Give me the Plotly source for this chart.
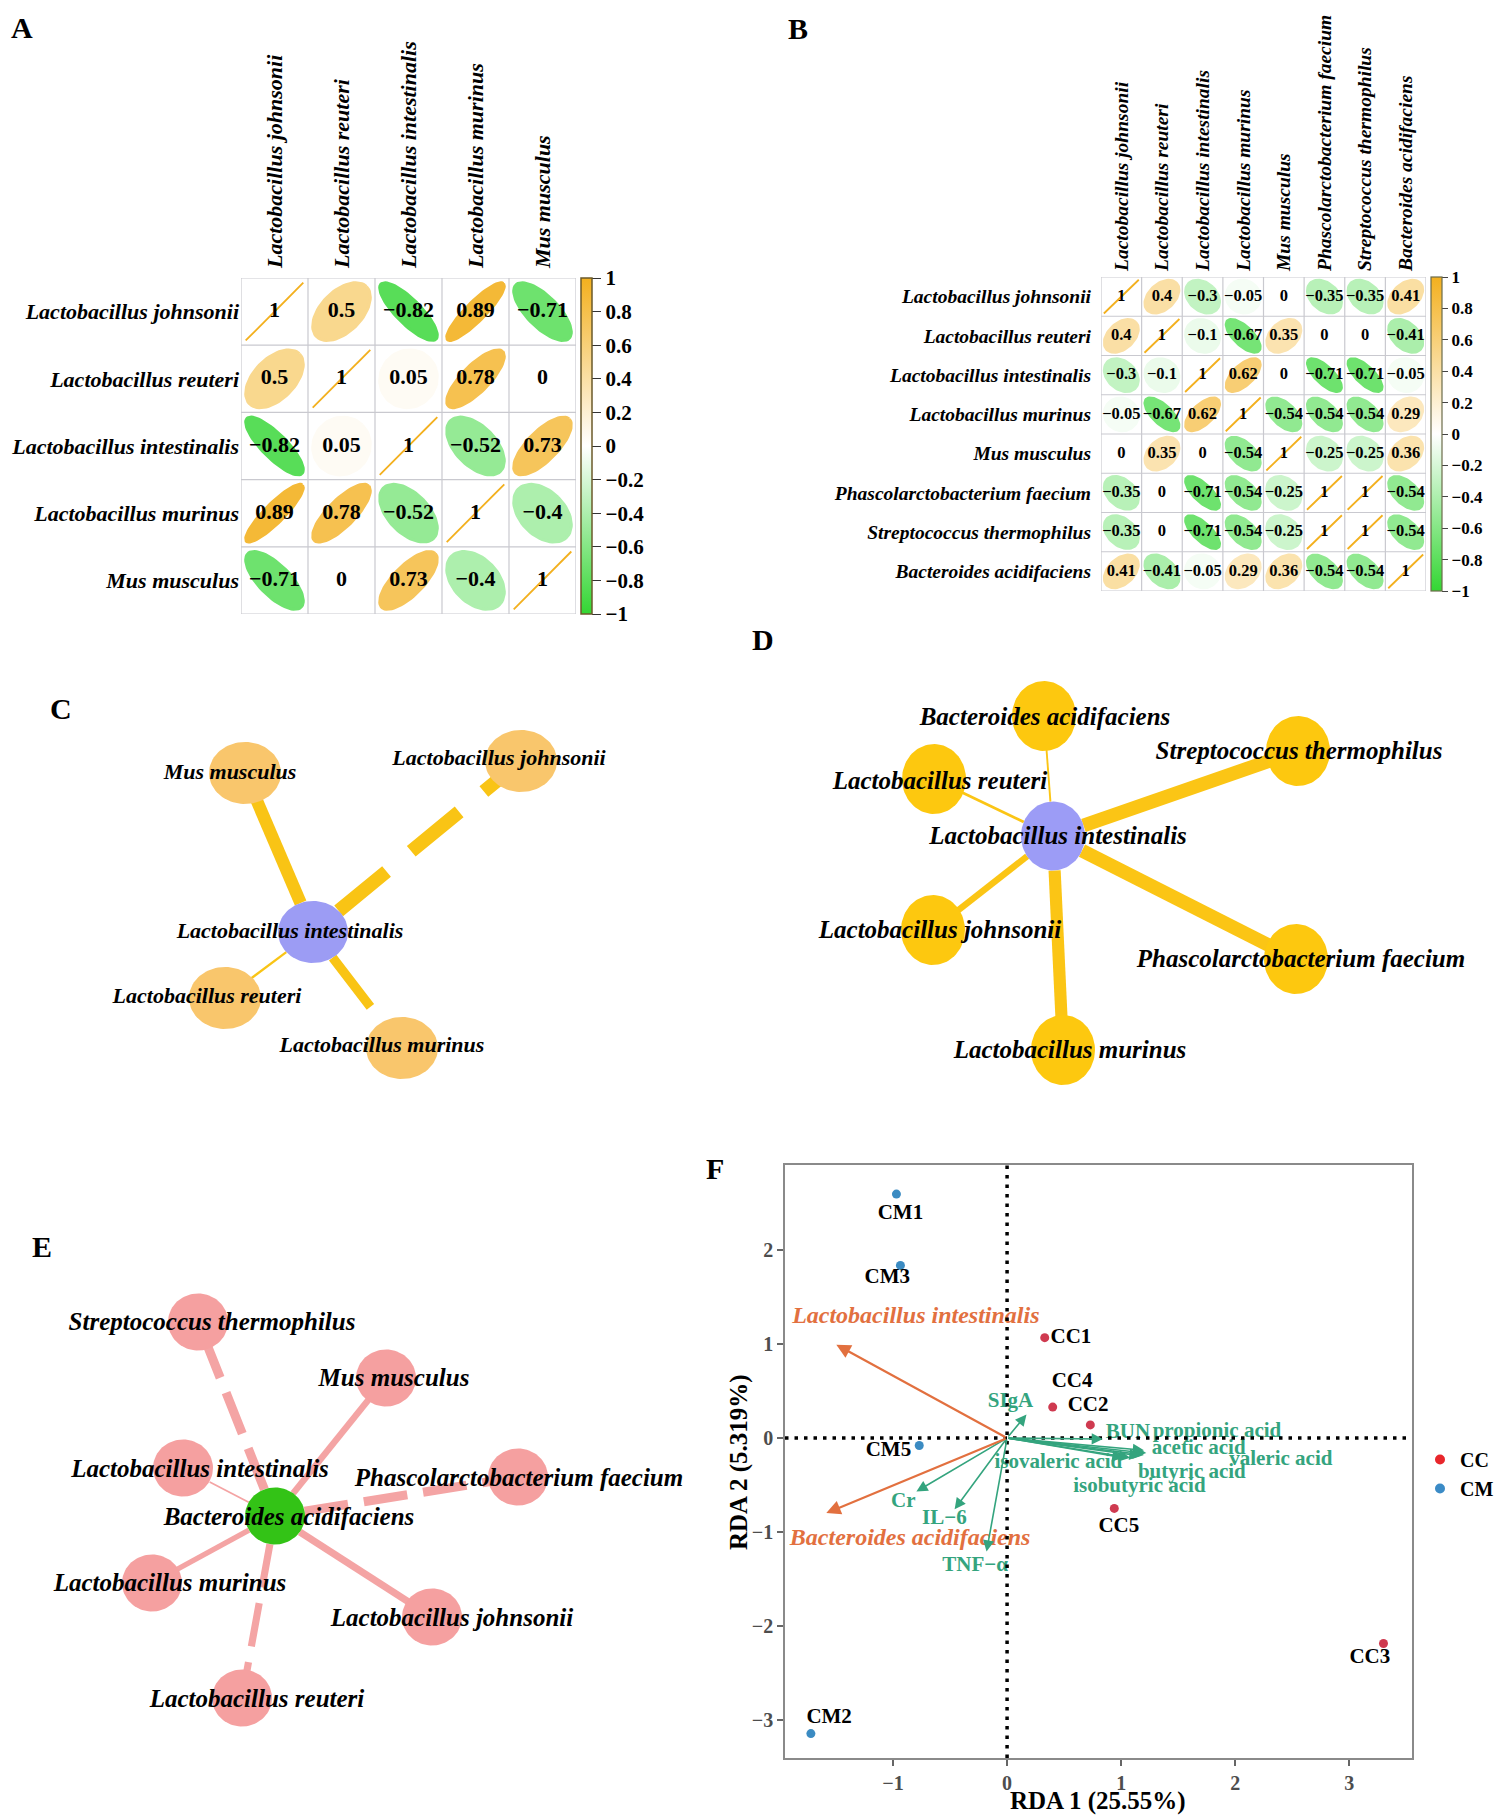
import numpy as np
import plotly.graph_objects as go

W, H = 1511, 1818
SERIF = "Liberation Serif"

# ---------------- data ----------------
A_species = ["Lactobacillus johnsonii", "Lactobacillus reuteri", "Lactobacillus intestinalis",
             "Lactobacillus murinus", "Mus musculus"]
A_corr = [
    [1, 0.5, -0.82, 0.89, -0.71],
    [0.5, 1, 0.05, 0.78, 0],
    [-0.82, 0.05, 1, -0.52, 0.73],
    [0.89, 0.78, -0.52, 1, -0.4],
    [-0.71, 0, 0.73, -0.4, 1],
]

B_species = ["Lactobacillus johnsonii", "Lactobacillus reuteri", "Lactobacillus intestinalis",
             "Lactobacillus murinus", "Mus musculus", "Phascolarctobacterium faecium",
             "Streptococcus thermophilus", "Bacteroides acidifaciens"]
B_corr = [
    [1, 0.4, -0.3, -0.05, 0, -0.35, -0.35, 0.41],
    [0.4, 1, -0.1, -0.67, 0.35, 0, 0, -0.41],
    [-0.3, -0.1, 1, 0.62, 0, -0.71, -0.71, -0.05],
    [-0.05, -0.67, 0.62, 1, -0.54, -0.54, -0.54, 0.29],
    [0, 0.35, 0, -0.54, 1, -0.25, -0.25, 0.36],
    [-0.35, 0, -0.71, -0.54, -0.25, 1, 1, -0.54],
    [-0.35, 0, -0.71, -0.54, -0.25, 1, 1, -0.54],
    [0.41, -0.41, -0.05, 0.29, 0.36, -0.54, -0.54, 1],
]
cbar_ticks = [1, 0.8, 0.6, 0.4, 0.2, 0, -0.2, -0.4, -0.6, -0.8, -1]

# networks: centre node first, then leaves
C_center = "Lactobacillus intestinalis"
C_leaves = ["Mus musculus", "Lactobacillus johnsonii", "Lactobacillus reuteri", "Lactobacillus murinus"]
C_r = [0.73, -0.82, 0.05, -0.52]
C_layout_x = [313, 245, 521, 225, 402]
C_layout_y = [932, 773, 761, 998, 1048]
C_label_x = [290, 230, 499, 207, 382]
C_label_y = [932, 773, 759, 997, 1046]

D_center = "Lactobacillus intestinalis"
D_leaves = ["Bacteroides acidifaciens", "Streptococcus thermophilus", "Lactobacillus reuteri",
            "Lactobacillus johnsonii", "Phascolarctobacterium faecium", "Lactobacillus murinus"]
D_r = [-0.05, -0.71, -0.1, -0.3, -0.71, 0.62]
D_layout_x = [1053, 1044, 1298, 934, 933, 1296, 1063]
D_layout_y = [836, 716, 751, 779, 930, 959, 1050]
D_label_x = [1058, 1045, 1299, 940, 940, 1301, 1070]
D_label_y = [838, 719, 753, 783, 932, 961, 1052]

E_center = "Bacteroides acidifaciens"
E_leaves = ["Streptococcus thermophilus", "Mus musculus", "Lactobacillus intestinalis",
            "Phascolarctobacterium faecium", "Lactobacillus murinus", "Lactobacillus johnsonii",
            "Lactobacillus reuteri"]
E_r = [-0.54, 0.36, -0.05, -0.54, 0.29, 0.41, -0.41]
E_layout_x = [275, 198, 386, 183, 518, 152, 432, 242]
E_layout_y = [1516, 1322, 1378, 1468, 1477, 1583, 1617, 1698]
E_label_x = [289, 212, 394, 200, 519, 170, 452, 257]
E_label_y = [1519, 1324, 1380, 1471, 1480, 1585, 1620, 1701]

F_samples = ["CC1", "CC2", "CC3", "CC4", "CC5", "CM1", "CM2", "CM3", "CM5"]
F_group = ["CC", "CC", "CC", "CC", "CC", "CM", "CM", "CM", "CM"]
F_rda1 = [0.33, 0.73, 3.30, 0.40, 0.94, -0.97, -1.72, -0.935, -0.77]
F_rda2 = [1.07, 0.14, -2.19, 0.33, -0.75, 2.60, -3.15, 1.84, -0.08]
F_label_x = [0.56, 0.71, 3.18, 0.57, 0.98, -0.935, -1.56, -1.05, -1.04]
F_label_y = [1.07, 0.345, -2.34, 0.60, -0.945, 2.387, -2.986, 1.705, -0.135]
F_species = ["Lactobacillus intestinalis", "Bacteroides acidifaciens"]
F_species_x = [-1.497, -1.585]
F_species_y = [0.995, -0.80]
F_species_lab_x = [-0.80, -0.85]
F_species_lab_y = [1.29, -1.077]
F_env = ["SIgA", "BUN", "propionic acid", "acetic acid", "valeric acid", "butyric acid",
         "isobutyric acid", "isovaleric acid", "Cr", "IL\u22126", "TNF\u2212\u03b1"]
F_env_x = [0.17, 0.84, 1.20, 1.22, 1.20, 1.17, 1.08, 1.02, -0.795, -0.46, -0.18]
F_env_y = [0.25, -0.01, -0.13, -0.16, -0.18, -0.19, -0.21, -0.21, -0.57, -0.76, -1.21]
F_env_lab_x = [0.03, 1.06, 1.84, 1.68, 2.40, 1.62, 1.16, 0.45, -0.91, -0.55, -0.28]
F_env_lab_y = [0.39, 0.06, 0.07, -0.11, -0.23, -0.37, -0.52, -0.26, -0.675, -0.86, -1.36]
F_xticks = [-1, 0, 1, 2, 3]
F_yticks = [-3, -2, -1, 0, 1, 2]

# ---------------- styles ----------------
GREEN = (51, 214, 51)
WHITE = (255, 255, 255)
ORANGE = (243, 176, 30)
GRID = "#C9C9CF"
FEN_GREEN = "#34A47E"
FEN_ORANGE = "#E2703F"


def px(x):
    return x / W


def py(y):
    return 1 - y / H


def corr_color(r):
    c2 = ORANGE if r >= 0 else GREEN
    a = abs(r)
    rgb = [round(WHITE[k] + (c2[k] - WHITE[k]) * a) for k in range(3)]
    return "rgb(%d,%d,%d)" % tuple(rgb)


def fmt(v):
    return ("%g" % v).replace("-", "\u2212")


CSCALE = [[0, "rgb(%d,%d,%d)" % GREEN], [0.5, "white"], [1, "rgb(%d,%d,%d)" % ORANGE]]

fig = go.Figure()


def add_corrplot(species, corr, xa, ya, sx, sy, numsize, edge_w):
    n = len(species)
    t = np.linspace(0, 2 * np.pi, 72)
    for i in range(n):
        for j in range(n):
            r = corr[i][j]
            d = np.arccos(np.clip(r, -1, 1))
            ex = (j + 1) + np.cos(t + d / 2) * sx
            ey = (i + 1) - np.cos(t - d / 2) * sy
            col = corr_color(r)
            if abs(r) >= 0.999:
                fig.add_trace(go.Scatter(x=ex, y=ey, mode="lines", line=dict(color=col, width=1.8),
                                         xaxis=xa, yaxis=ya, hoverinfo="skip", showlegend=False))
            else:
                fig.add_trace(go.Scatter(x=ex, y=ey, mode="lines", fill="toself", fillcolor=col,
                                         line=dict(color=col, width=edge_w),
                                         xaxis=xa, yaxis=ya, hoverinfo="skip", showlegend=False))
    xs, ys, txt = [], [], []
    for i in range(n):
        for j in range(n):
            xs.append(j + 1)
            ys.append(i + 1)
            txt.append(fmt(corr[i][j]))
    fig.add_trace(go.Scatter(x=xs, y=ys, mode="text", text=txt,
                             textfont=dict(family=SERIF, size=numsize, color="black", weight="bold"),
                             xaxis=xa, yaxis=ya, hoverinfo="skip", showlegend=False))
    for k in range(n + 1):
        v = 0.5 + k
        fig.add_shape(type="line", xref=xa, yref=ya, x0=v, x1=v, y0=0.5, y1=n + 0.5,
                      line=dict(color=GRID, width=1.2), layer="below")
        fig.add_shape(type="line", xref=xa, yref=ya, x0=0.5, x1=n + 0.5, y0=v, y1=v,
                      line=dict(color=GRID, width=1.2), layer="below")


add_corrplot(A_species, A_corr, "x", "y", 0.43, 0.43, 22, 3)
add_corrplot(B_species, B_corr, "x2", "y2", 0.43, 0.43, 16.5, 2)

# colour bars
fig.add_trace(go.Scatter(
    x=[1], y=[1], mode="markers", xaxis="x", yaxis="y", hoverinfo="skip", showlegend=False,
    marker=dict(size=0.001, color=[0], colorscale=CSCALE, cmin=-1, cmax=1, showscale=True,
                colorbar=dict(x=px(581), xanchor="left", xpad=0, y=py(278), yanchor="top", ypad=0,
                              len=336, lenmode="pixels", thickness=11, outlinewidth=1.5,
                              outlinecolor="#6B5A2A", tickmode="array", tickvals=cbar_ticks,
                              ticktext=[fmt(v) for v in cbar_ticks], ticks="outside", ticklen=9,
                              tickwidth=1.3, tickcolor="#333333",
                              tickfont=dict(family=SERIF, size=21, color="black", weight="bold")))))
fig.add_trace(go.Scatter(
    x=[1], y=[1], mode="markers", xaxis="x2", yaxis="y2", hoverinfo="skip", showlegend=False,
    marker=dict(size=0.001, color=[0], colorscale=CSCALE, cmin=-1, cmax=1, showscale=True,
                colorbar=dict(x=px(1431), xanchor="left", xpad=0, y=py(277), yanchor="top", ypad=0,
                              len=314, lenmode="pixels", thickness=11, outlinewidth=1.2,
                              outlinecolor="#6B6B4A", tickmode="array", tickvals=cbar_ticks,
                              ticktext=[fmt(v) for v in cbar_ticks], ticks="outside", ticklen=6,
                              tickwidth=1.2, tickcolor="#444444",
                              tickfont=dict(family=SERIF, size=17, color="black", weight="bold")))))


def add_network(center, leaves, r, lx, ly, tx, ty, leaf_ab, center_ab, leaf_col, center_col,
                edge_col, wfun, dash_neg, font_size):
    cx, cy = lx[0], ly[0]
    for k in range(len(leaves)):
        x1, y1 = lx[k + 1], ly[k + 1]
        dx, dy = x1 - cx, y1 - cy
        L = np.hypot(dx, dy)
        ux, uy = dx / L, dy / L
        rad = 1 / np.sqrt((ux / center_ab[0]) ** 2 + (uy / center_ab[1]) ** 2)
        dash = dash_neg if (r[k] < 0 and dash_neg) else "solid"
        fig.add_trace(go.Scatter(x=[cx + ux * rad, x1], y=[cy + uy * rad, y1], mode="lines",
                                 line=dict(color=edge_col, width=wfun(r[k]), dash=dash),
                                 xaxis="x3", yaxis="y3", hoverinfo="skip", showlegend=False))
    t = np.linspace(0, 2 * np.pi, 90)
    for k in range(len(lx)):
        a, b = center_ab if k == 0 else leaf_ab
        col = center_col if k == 0 else leaf_col
        fig.add_trace(go.Scatter(x=lx[k] + a * np.cos(t), y=ly[k] + b * np.sin(t), mode="lines",
                                 fill="toself", fillcolor=col, line=dict(color=col, width=0),
                                 xaxis="x3", yaxis="y3", hoverinfo="skip", showlegend=False))
    fig.add_trace(go.Scatter(x=tx, y=ty, mode="text", text=[center] + leaves,
                             textfont=dict(family=SERIF, size=font_size, color="black",
                                           weight="bold", style="italic"),
                             xaxis="x3", yaxis="y3", hoverinfo="skip", showlegend=False))


add_network(C_center, C_leaves, C_r, C_layout_x, C_layout_y, C_label_x, C_label_y,
            (36, 31), (35, 31), "#F9C66C", "#9C9CF4", "#F9C415",
            lambda r: 1.5 + 15 * abs(r), "62px,32px", 22)
add_network(D_center, D_leaves, D_r, D_layout_x, D_layout_y, D_label_x, D_label_y,
            (32, 35), (32, 34.5), "#FDC80F", "#9C9CF6", "#FBC515",
            lambda r: 1 + 18 * abs(r), None, 25)
add_network(E_center, E_leaves, E_r, E_layout_x, E_layout_y, E_label_x, E_label_y,
            (30, 28.5), (30, 28.5), "#F5A0A0", "#33C316", "#F4A4A4",
            lambda r: 1 + 15 * abs(r), "44px,16px", 25)

# ---------------- panel F ----------------
grp_col = {"CC": "#CF3A50", "CM": "#3B8BC2"}
for g in ["CC", "CM"]:
    idx = [i for i, gg in enumerate(F_group) if gg == g]
    fig.add_trace(go.Scatter(x=[F_rda1[i] for i in idx], y=[F_rda2[i] for i in idx], mode="markers",
                             marker=dict(color=grp_col[g], size=9), xaxis="x6", yaxis="y6",
                             hoverinfo="skip", showlegend=False))
fig.add_trace(go.Scatter(x=F_label_x, y=F_label_y, mode="text", text=F_samples,
                         textfont=dict(family=SERIF, size=21, color="black", weight="bold"),
                         xaxis="x6", yaxis="y6", hoverinfo="skip", showlegend=False))
fig.add_trace(go.Scatter(x=F_env_lab_x, y=F_env_lab_y, mode="text", text=F_env,
                         textfont=dict(family=SERIF, size=21, color=FEN_GREEN, weight="bold"),
                         xaxis="x6", yaxis="y6", hoverinfo="skip", showlegend=False))
fig.add_trace(go.Scatter(x=F_species_lab_x, y=F_species_lab_y, mode="text", text=F_species,
                         textfont=dict(family=SERIF, size=24, color=FEN_ORANGE, weight="bold",
                                       style="italic"),
                         xaxis="x6", yaxis="y6", hoverinfo="skip", showlegend=False))
# legend entries
for g, c in [("CC", "#E8262B"), ("CM", "#3B8BC6")]:
    fig.add_trace(go.Scatter(x=[None], y=[None], mode="markers", name=g,
                             marker=dict(color=c, size=10), xaxis="x6", yaxis="y6"))

ann = []
for i in range(len(F_env)):
    ann.append(dict(x=F_env_x[i], y=F_env_y[i], ax=0, ay=0, xref="x6", yref="y6", axref="x6",
                    ayref="y6", text="", showarrow=True, arrowhead=2, arrowsize=1.4,
                    arrowwidth=1.6, arrowcolor=FEN_GREEN, standoff=0))
for i in range(len(F_species)):
    ann.append(dict(x=F_species_x[i], y=F_species_y[i], ax=0, ay=0, xref="x6", yref="y6",
                    axref="x6", ayref="y6", text="", showarrow=True, arrowhead=2, arrowsize=1.3,
                    arrowwidth=2.2, arrowcolor=FEN_ORANGE, standoff=0))

for letter, lx_, ly_ in [("A", 22, 27), ("B", 798, 28), ("C", 61, 708), ("D", 763, 640),
                         ("E", 42, 1246), ("F", 715, 1168)]:
    ann.append(dict(x=px(lx_), y=py(ly_), xref="paper", yref="paper", text=letter, showarrow=False,
                    xanchor="center", yanchor="middle",
                    font=dict(family=SERIF, size=30, color="black", weight="bold")))
ann.append(dict(x=px(1098), y=py(1801), xref="paper", yref="paper", text="RDA 1 (25.55%)",
                showarrow=False, xanchor="center", yanchor="middle",
                font=dict(family=SERIF, size=25, color="black", weight="bold")))
ann.append(dict(x=px(739), y=py(1462), xref="paper", yref="paper", text="RDA 2 (5.319%)",
                showarrow=False, xanchor="center", yanchor="middle", textangle=-90,
                font=dict(family=SERIF, size=25, color="black", weight="bold")))

for s in [
    dict(type="line", xref="x6 domain", yref="y6", x0=0, x1=1, y0=0, y1=0,
         line=dict(color="black", width=3.5, dash="3.5px,6px"), layer="above"),
    dict(type="line", xref="x6", yref="y6 domain", x0=0, x1=0, y0=0, y1=1,
         line=dict(color="black", width=3.5, dash="3.5px,6px"), layer="above"),
]:
    fig.add_shape(**s)

lab_font_A = dict(family=SERIF, size=22, color="black", weight="bold", style="italic")
lab_font_B = dict(family=SERIF, size=19.5, color="black", weight="bold", style="italic")
hidden = dict(showgrid=False, zeroline=False, showline=False, ticks="", fixedrange=True)

fig.update_layout(
    width=W, height=H, autosize=False, margin=dict(l=0, r=0, t=0, b=0),
    paper_bgcolor="white", plot_bgcolor="rgba(0,0,0,0)", hovermode=False,
    xaxis=dict(domain=[px(241), px(576)], range=[0.5, 5.5], anchor="y", side="top",
               tickmode="array", tickvals=list(range(1, 6)), ticktext=A_species, tickangle=-90,
               tickfont=lab_font_A, ticklabelstandoff=9, **hidden),
    yaxis=dict(domain=[py(614), py(278)], range=[5.5, 0.5], anchor="x",
               tickmode="array", tickvals=list(range(1, 6)), ticktext=A_species,
               tickfont=lab_font_A, ticklabelstandoff=1, **hidden),
    xaxis2=dict(domain=[px(1101), px(1426)], range=[0.5, 8.5], anchor="y2", side="top",
                tickmode="array", tickvals=list(range(1, 9)), ticktext=B_species, tickangle=-90,
                tickfont=lab_font_B, ticklabelstandoff=5, **hidden),
    yaxis2=dict(domain=[py(591), py(277)], range=[8.5, 0.5], anchor="x2",
                tickmode="array", tickvals=list(range(1, 9)), ticktext=B_species,
                tickfont=lab_font_B, ticklabelstandoff=9, **hidden),
    xaxis3=dict(domain=[0, 1], range=[0, W], anchor="y3", showticklabels=False, **hidden),
    yaxis3=dict(domain=[0, 1], range=[H, 0], anchor="x3", showticklabels=False, **hidden),
    xaxis6=dict(domain=[px(785), px(1412)], range=[-1.947, 3.55], anchor="y6",
                tickmode="array", tickvals=F_xticks, ticktext=[fmt(v) for v in F_xticks],
                ticks="outside", ticklen=6, tickwidth=1.5, tickcolor="#666666",
                tickfont=dict(family=SERIF, size=20, color="#4D4D4D", weight="bold"),
                showline=True, mirror=True, linecolor="#8A8A8A", linewidth=1.5,
                showgrid=False, zeroline=False, fixedrange=True),
    yaxis6=dict(domain=[py(1758), py(1165)], range=[-3.41, 2.91], anchor="x6",
                tickmode="array", tickvals=F_yticks, ticktext=[fmt(v) for v in F_yticks],
                ticks="outside", ticklen=6, tickwidth=1.5, tickcolor="#666666",
                tickfont=dict(family=SERIF, size=20, color="#4D4D4D", weight="bold"),
                showline=True, mirror=True, linecolor="#8A8A8A", linewidth=1.5,
                showgrid=False, zeroline=False, fixedrange=True),
    legend=dict(x=px(1420), y=py(1440), xanchor="left", yanchor="top",
                font=dict(family=SERIF, size=20, color="black", weight="bold"),
                bgcolor="rgba(0,0,0,0)", tracegroupgap=0),
    annotations=ann,
)

fig.write_html("out.html", config={"displayModeBar": False},
               post_script="document.body.style.margin='0px';document.body.style.padding='0px';")
